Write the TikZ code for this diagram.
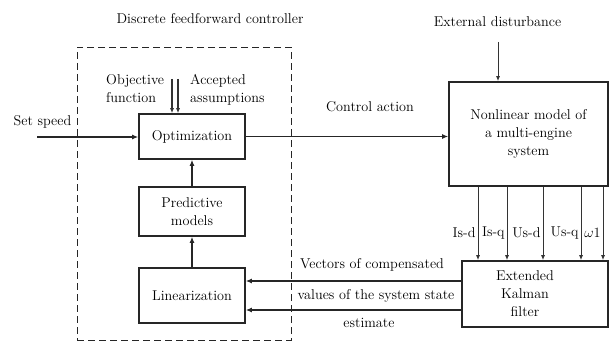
\documentclass[tikz,border=0pt]{standalone}
\usetikzlibrary{arrows.meta, positioning, calc}
\tikzset{
  block/.style = {rectangle, draw=black!85, line width=1.6pt, align=center, inner sep=2pt},
  ctrlbox/.style = {rectangle, draw=black!85, line width=0.9pt, dash pattern=on 7pt off 4pt},
  flow/.style = {draw=black!85, line width=1.8pt, -{Latex[length=6pt,width=5pt]}},
  signal/.style = {draw=black!80, line width=1pt, -{Latex[length=5pt,width=4pt]}},
  txt/.style = {inner sep=1pt, align=left}
}
\begin{document}
\begin{tikzpicture}[x=1pt, y=-1pt, font=\fontsize{14.2}{18}\selectfont]
    \useasboundingbox (0,0) rectangle (609,342);

    % Discrete controller frame
    \node[ctrlbox, minimum width=214, minimum height=293] (ctrl) at (184,193.5) {};
    \node[txt] (ctrltitle) at (210,19) {Discrete feedforward controller};

    % Controller blocks
    \node[block, minimum width=106, minimum height=45] (opt) at (192,136.5) {Optimization};
    \node[block, minimum width=106, minimum height=49] (pred) at (192,211.5) {Predictive\\models};
    \node[block, minimum width=106, minimum height=55] (lin) at (192,295.5) {Linearization};

    % Plant and observer
    \node[block, minimum width=159, minimum height=104] (plant) at (528.5,134) {Nonlinear model of\\a multi-engine\\system};
    \node[block, minimum width=146, minimum height=66] (ekf) at (535,294) {};
    \node[txt, align=center] (ekflbl) at (525,294) {Extended\\Kalman\\filter};

    % Labels
    \node[txt, anchor=north west] (objlbl) at (105,73) {Objective\\function};
    \node[txt, anchor=north west] (asslbl) at (189,73) {Accepted\\assumptions};
    \node[txt] (setlbl) at (42.5,122) {Set speed};
    \node[txt] (ctrlact) at (370,107) {Control action};
    \node[txt] (distlbl) at (497.5,22) {External disturbance};
    \node[txt] (vec1) at (372,265) {Vectors of compensated};
    \node[txt] (vec2) at (376,296) {values of the system state};
    \node[txt] (vec3) at (369,323) {estimate};

    % Free ends
    \coordinate (setin) at (37,137);
    \coordinate (distin) at (498,42);
    \coordinate (objin) at (172,79);
    \coordinate (assin) at (178,79);

    % Connectors
    \draw[flow] (setin) -- (setin -| opt.west);
    \draw[flow] (opt.east) -- (opt.east -| plant.west);
    \draw[signal] (distin) -- (distin |- plant.north);
    \draw[signal, line width=1.3pt] (objin) -- (objin |- opt.north);
    \draw[signal, line width=1.3pt] (assin) -- (assin |- opt.north);
    \draw[flow, line width=1.3pt] (pred.north) -- (opt.south);
    \draw[flow, line width=1.3pt] (lin.north) -- (pred.south);
    \draw[flow] ([yshift=13pt]ekf.west) coordinate (v1) -- (v1 -| lin.east);
    \draw[flow] ([yshift=-16pt]ekf.west) coordinate (v2) -- (v2 -| lin.east);

    % Measured signals
    \foreach \x/\sig in {478/Is-d, 507/Is-q, 543/Us-d, 581/Us-q, 603/$\omega$1} {
        \draw[signal] (\x,0 |- plant.south) -- (\x,0 |- ekf.north)
            node[pos=0.63, left, inner sep=2pt] {\sig};
    }
\end{tikzpicture}
\end{document}
